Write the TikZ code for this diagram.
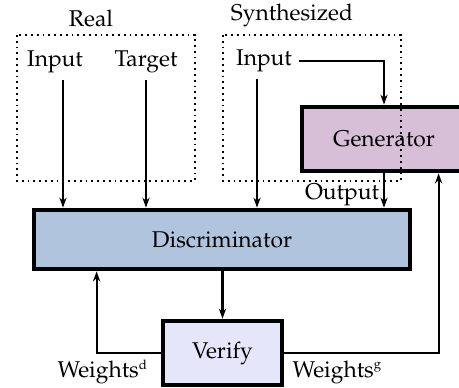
\documentclass[tikz,border=0pt]{standalone}
\usepackage[T1]{fontenc}
\usepackage{mathpazo}
\usepackage{xcolor}
\usetikzlibrary{arrows.meta,calc,positioning}

\definecolor{disccol}{HTML}{B0C4DE}
\definecolor{gencol}{HTML}{D8BFD8}
\definecolor{vercol}{HTML}{E6E6FA}

\newcommand{\wsup}[1]{\textsuperscript{\fontsize{6.6}{7}\selectfont #1}}

\tikzset{
    block/.style={draw, line width=2.4pt, align=center, inner sep=0pt},
    group/.style={draw, dotted, line width=0.9pt},
    link/.style={line width=1.1pt, -{Stealth[length=5pt,width=3.6pt]}},
}

\begin{document}
\begin{tikzpicture}[x=0.5pt,y=-0.5pt,font=\fontsize{11.4}{13}\selectfont]
    \useasboundingbox (0,0) rectangle (459,387);

    % Blocks
    \node[block, fill=disccol, minimum width=188pt, minimum height=29.5pt] (disc) at (222,239.5) {Discriminator};
    \node[block, fill=gencol, minimum width=82pt, minimum height=32pt] (gen) at (384,139) {Generator};
    \node[block, fill=vercol, minimum width=59.5pt, minimum height=32pt] (verify) at (222.5,353) {Verify};

    % Groups
    \draw[group] (17,35) rectangle (195,181);
    \draw[group] (223,35) rectangle (401,181);
    \node (real) at (91,18) {Real};
    \node (synth) at (292,15) {Synthesized};

    % Labels
    \node (inR) at (55,62) {Input};
    \node (tgt) at (146,62) {Target};
    \node (inS) at (264,61) {Input};
    \node (out) at (342,195) {Output};
    \node[anchor=east] (wd) at (155,372) {Weights\wsup{d}};
    \node[anchor=west] (wg) at (285.5,372) {Weights\wsup{g}};

    % Connectors
    \draw[link] ([xshift=4pt]inR.south) -- ([xshift=4pt]inR.south |- disc.north);
    \draw[link] (tgt.south) -- (tgt.south |- disc.north);
    \draw[link] ([xshift=-3.5pt]inS.south) -- ([xshift=-3.5pt]inS.south |- disc.north);
    \draw[link] (inS.east) -| (gen.north);
    \draw[link] (gen.south) -- (gen.south |- disc.north);
    \draw[link] (disc.south -| verify.north) -- (verify.north);
    \draw[link] (verify.west) -| ($(disc.south west)+(65,0)$);
    \draw[link] (verify.east) -| ($(gen.south west)+(139,0)$);

\end{tikzpicture}
\end{document}
